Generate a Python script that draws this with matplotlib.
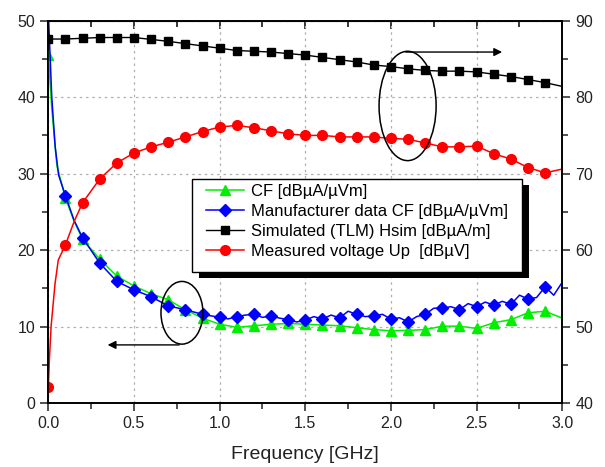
import matplotlib
matplotlib.use("Agg")
import matplotlib.pyplot as plt
from matplotlib.patches import Ellipse, Rectangle
from matplotlib.ticker import MultipleLocator
from matplotlib.transforms import IdentityTransform

plt.rcParams['font.family'] = ['Liberation Sans', 'DejaVu Sans']

# --- data ---
# CF (left axis)
cf_f = [0.0, 0.02, 0.05, 0.1, 0.15, 0.2, 0.3, 0.4, 0.5, 0.6, 0.7, 0.8, 0.9, 1.0,
        1.1, 1.2, 1.3, 1.4, 1.5, 1.6, 1.7, 1.8, 1.9, 2.0, 2.1, 2.2, 2.3, 2.4, 2.5,
        2.6, 2.7, 2.8, 2.9, 3.0]
cf_v = [45.5, 38.5, 31.0, 26.8, 23.8, 21.4, 18.8, 16.6, 15.3, 14.3, 13.5, 12.2, 11.1, 10.3,
        9.9, 10.1, 10.3, 10.4, 10.3, 10.2, 10.1, 9.85, 9.6, 9.45, 9.5, 9.6, 10.05, 10.05, 9.75,
        10.5, 10.9, 11.8, 12.0, 11.1]

# manufacturer data CF (left axis)
man_f = [0.0, 0.02, 0.04, 0.06, 0.1, 0.15, 0.2, 0.3, 0.4, 0.5, 0.6, 0.7, 0.8, 0.9, 1.0,
         1.05, 1.1, 1.15, 1.2, 1.25, 1.3, 1.35, 1.4, 1.45, 1.5, 1.55, 1.6, 1.65, 1.7, 1.75,
         1.8, 1.85, 1.9, 1.95, 2.0, 2.05, 2.1, 2.15, 2.2, 2.25, 2.3, 2.35, 2.4, 2.45, 2.5,
         2.55, 2.6, 2.65, 2.7, 2.75, 2.8, 2.85, 2.9, 2.95, 3.0]
man_v = [51.0, 40.0, 33.5, 29.8, 27.1, 23.9, 21.6, 18.3, 15.9, 14.8, 13.9, 12.7, 12.2, 11.6, 11.2,
         11.0, 11.3, 11.5, 11.6, 11.2, 11.4, 11.1, 10.9, 10.6, 10.85, 11.3, 10.98, 11.5, 11.15, 12.0,
         11.6, 11.3, 11.4, 11.6, 10.98, 11.15, 10.6, 11.3, 11.6, 12.4, 12.4, 12.6, 12.2, 13.0, 12.6,
         13.2, 12.8, 13.3, 12.9, 14.1, 13.6, 13.8, 15.2, 14.1, 15.8]

# simulated Hsim (right axis)
sim_f = [round(0.1 * i, 1) for i in range(31)]
sim_v = [87.6, 87.6, 87.7, 87.8, 87.8, 87.8, 87.55, 87.3, 87.0, 86.7, 86.4, 86.1, 86.0, 85.9,
         85.7, 85.5, 85.2, 84.9, 84.6, 84.2, 84.0, 83.7, 83.5, 83.4, 83.4, 83.3, 83.0, 82.7,
         82.3, 81.9, 81.4]

# measured voltage Up (right axis)
up_f = [0.0, 0.006, 0.016, 0.039, 0.058, 0.1, 0.15, 0.2, 0.3, 0.4, 0.5, 0.6, 0.7, 0.8, 0.9,
        1.0, 1.1, 1.2, 1.3, 1.4, 1.5, 1.6, 1.7, 1.8, 1.9, 2.0, 2.1, 2.2, 2.3, 2.4, 2.5,
        2.6, 2.7, 2.8, 2.9, 3.0]
up_v = [42.1, 45.6, 50.0, 55.6, 58.7, 60.7, 63.7, 66.2, 69.3, 71.4, 72.7, 73.5, 74.1, 74.8, 75.5,
        76.1, 76.3, 76.0, 75.6, 75.2, 75.0, 75.0, 74.8, 74.8, 74.8, 74.6, 74.5, 74.0, 73.5, 73.5, 73.6,
        72.6, 71.9, 70.8, 70.1, 70.6]

labels = ["CF [dB\u00b5A/\u00b5Vm]",
          "Manufacturer data CF [dB\u00b5A/\u00b5Vm]",
          "Simulated (TLM) Hsim [dB\u00b5A/m]",
          "Measured voltage Up  [dB\u00b5V]"]


def marks(freqs, last=2.9):
    # markers only every 0.1 GHz
    return [i for i, f in enumerate(freqs)
            if abs(f * 10 - round(f * 10)) < 1e-6 and f <= last + 1e-6]


fig = plt.figure(figsize=(6.05, 4.67), dpi=100)
ax = fig.add_axes([0.0799, 0.137, 0.8495, 0.8187])
ax2 = ax.twinx()

l1, = ax.plot(cf_f, cf_v, color='#00ee00', lw=1.1, marker='^', ms=7,
              markevery=marks(cf_f), label=labels[0], zorder=3)
l2, = ax.plot(man_f, man_v, color='#0000ff', lw=1.1, marker='D', ms=6.5,
              markevery=marks(man_f), label=labels[1], zorder=4)
l3, = ax2.plot(sim_f, sim_v, color='black', lw=1.0, marker='s', ms=6,
               markevery=marks(sim_f), label=labels[2])
l4, = ax2.plot(up_f, up_v, color='#ff0000', lw=1.1, marker='o', ms=7,
               markevery=marks(up_f), label=labels[3])

ax.set_xlim(0, 3.0)
ax.set_ylim(0, 50)
ax2.set_ylim(40, 90)

ax.xaxis.set_major_locator(MultipleLocator(0.5))
ax.xaxis.set_minor_locator(MultipleLocator(0.25))
ax.yaxis.set_major_locator(MultipleLocator(10))
ax.yaxis.set_minor_locator(MultipleLocator(5))
ax2.yaxis.set_major_locator(MultipleLocator(10))
ax2.yaxis.set_minor_locator(MultipleLocator(5))
ax.xaxis.set_major_formatter(lambda v, p: f"{v:.1f}")

ax.grid(True, which='major', color='#b0b0b0', linestyle=(0, (2, 3)), lw=0.9)
ax.set_axisbelow(True)

ax.tick_params(which='both', direction='out', labelsize=11.5, width=1.1, colors='#222222')
ax.tick_params(which='major', length=6)
ax.tick_params(which='minor', length=4)
ax2.tick_params(which='both', direction='out', labelsize=11.5, width=1.1, colors='#222222')
ax2.tick_params(which='major', length=6)
ax2.tick_params(which='minor', length=4)

top = ax.secondary_xaxis('top')
top.xaxis.set_major_locator(MultipleLocator(0.5))
top.xaxis.set_minor_locator(MultipleLocator(0.25))
top.tick_params(which='both', direction='in', labeltop=False, width=1.1)
top.tick_params(which='major', length=6)
top.tick_params(which='minor', length=4)

for a in (ax, ax2):
    for s in a.spines.values():
        s.set_linewidth(1.2)

ax.set_xlabel("Frequency [GHz]", fontsize=14, labelpad=11, color='#222222')

# ellipses + arrows
ax.add_patch(Ellipse((0.78, 11.8), 0.245, 8.2, fill=False, ec='black', lw=1.1, zorder=6))
ax.annotate("", xy=(0.33, 7.6), xytext=(0.78, 7.6),
            arrowprops=dict(arrowstyle='-|>', color='black', lw=1.0, mutation_scale=12))
ax2.add_patch(Ellipse((2.097, 78.85), 0.333, 14.3, fill=False, ec='black', lw=1.1, zorder=6))
ax2.annotate("", xy=(2.665, 85.9), xytext=(2.07, 85.9),
             arrowprops=dict(arrowstyle='-|>', color='black', lw=1.0, mutation_scale=12))

# legend with hand drawn frame and hard black shadow
leg = ax2.legend([l1, l2, l3, l4], labels, loc='upper left',
                 bbox_to_anchor=(0.307, 0.572), borderaxespad=0, borderpad=0,
                 frameon=False, fontsize=12, handlelength=2.3, handletextpad=0.4,
                 labelspacing=0.3)
leg.set_zorder(8)
fig.canvas.draw()
bb = leg.get_window_extent()
x0, y0 = bb.x0 - 14, bb.y0 - 13
w, h = bb.width + 14 + 14, bb.height + 13 + 5
ax2.add_artist(Rectangle((x0 + 7, y0 - 6), w, h, transform=IdentityTransform(),
                         facecolor='black', edgecolor='none', zorder=6.5, clip_on=False))
ax2.add_artist(Rectangle((x0, y0), w, h, transform=IdentityTransform(),
                         facecolor='white', edgecolor='black', lw=1.0, zorder=7, clip_on=False))

fig.savefig("out.png", dpi=100)
